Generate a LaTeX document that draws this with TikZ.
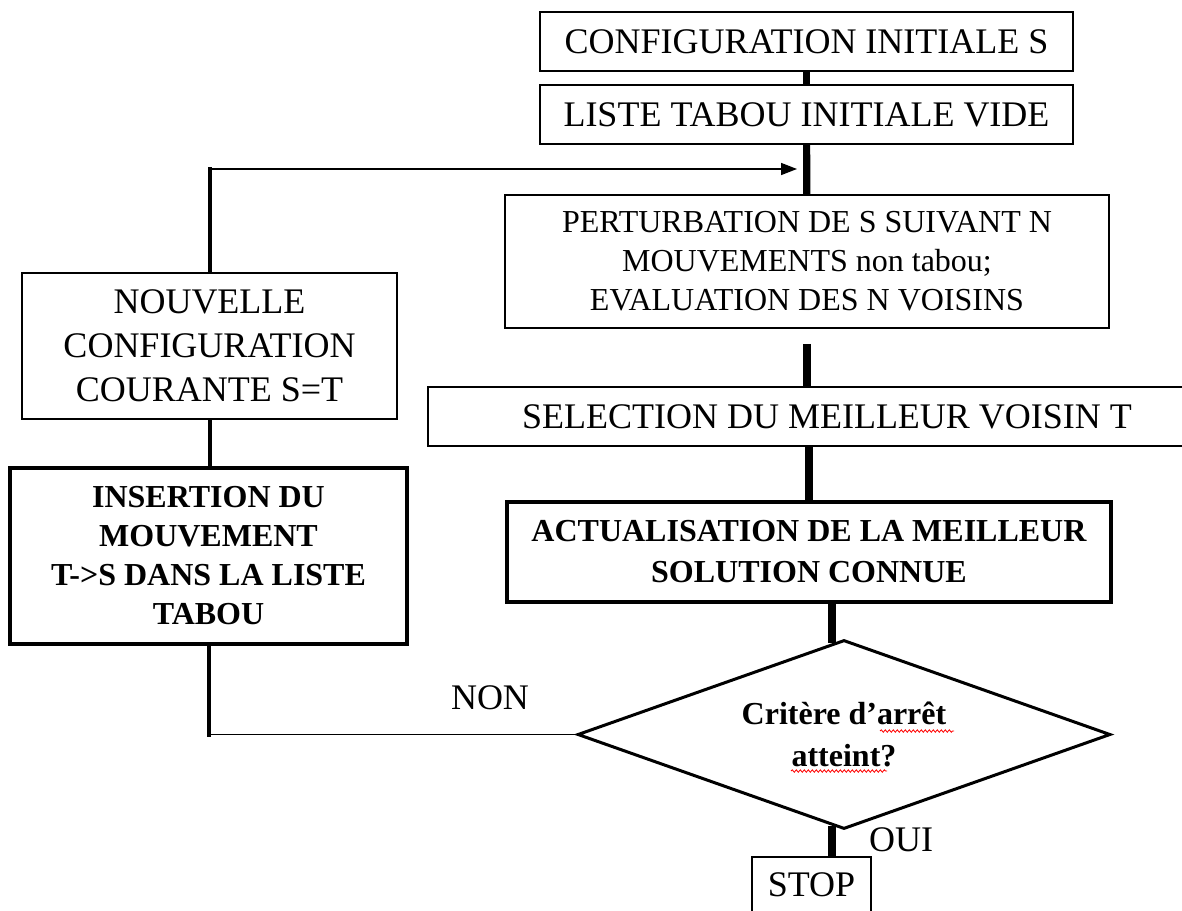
\documentclass[tikz,border=0pt]{standalone}
\usepackage{fontspec}
\setmainfont{Liberation Serif}
\usetikzlibrary{shapes.geometric,arrows.meta,decorations.pathmorphing}
\tikzset{
  blk/.style={rectangle,draw,line width=0.8pt,inner sep=0pt,align=center,font=\fontsize{18}{22}\selectfont},
  bblk/.style={blk,line width=1.8pt,font=\fontsize{16}{20.5}\selectfont\bfseries},
  dmd/.style={diamond,draw,line width=1.5pt,inner sep=0pt,aspect=2.82,align=center,minimum width=266.5pt,minimum height=94.5pt,font=\fontsize{16}{21}\selectfont\bfseries},
  lbl/.style={inner sep=0pt,font=\fontsize{18}{22}\selectfont},
  lnk/.style={line width=3.6pt},
  lnkm/.style={line width=2pt,line cap=rect},
  lnkt/.style={line width=0.8pt},
  sq/.style={red,line width=0.4pt,decorate,decoration={snake,amplitude=0.6pt,segment length=2pt}}
}

\begin{document}
\begin{tikzpicture}[x=0.5pt,y=-0.5pt]
\useasboundingbox (0,0) rectangle (1182,910);
\node[blk,minimum width=266.5pt,minimum height=29.5pt] (init) at (806.5,41.5) {CONFIGURATION INITIALE S};
\node[blk,minimum width=266.5pt,minimum height=29.5pt] (tabou) at (806.5,114.5) {LISTE TABOU INITIALE VIDE};
\node[blk,minimum width=302pt,minimum height=66.5pt,font=\fontsize{16}{19.5}\selectfont] (pert) at (807,261.5) {PERTURBATION DE S SUIVANT N\\MOUVEMENTS non tabou;\\EVALUATION DES N VOISINS};
\node[blk,minimum width=399pt,minimum height=29.5pt] (sel) at (827,416.5) {SELECTION DU MEILLEUR VOISIN T};
\node[bblk,minimum width=302pt,minimum height=50pt] (actu) at (809,552) {ACTUALISATION DE LA MEILLEUR\\SOLUTION CONNUE};
\node[dmd] (dec) at (844,734.5) {Critère d’arrêt\\atteint?};
\node[blk,minimum width=59.5pt,minimum height=28pt] (stop) at (811.5,885) {STOP};
\node[blk,minimum width=187.5pt,minimum height=73pt] (nouv) at (209.5,346) {NOUVELLE\\CONFIGURATION\\COURANTE S=T};
\node[bblk,minimum width=198.5pt,minimum height=88pt,font=\fontsize{16}{19.5}\selectfont\bfseries] (ins) at (208.5,556) {INSERTION DU\\MOUVEMENT\\T->S DANS LA LISTE\\TABOU};
\node[lbl] (non) at (490,698) {NON};
\node[lbl] (oui) at (901,840) {OUI};
\draw[lnk] (init) -- (tabou);
\draw[lnk] (tabou) -- (pert);
\draw[lnk,shorten <=7.5pt] (pert.south) -- (pert.south |- sel.north);
\draw[lnk] (actu.north |- sel.south) -- (actu.north);
\draw[lnk] ([xshift=11.5pt]actu.south) -- ([xshift=-6pt,yshift=-2pt]dec.north);
\draw[lnk] ([xshift=-6pt,yshift=2.5pt]dec.south) -- ([xshift=-6pt]dec.south |- stop.north);
\coordinate (fb) at (797,169);
\draw[lnkm] (nouv.north) -- (nouv.north |- fb);
\draw[lnkt,-{Triangle[length=8pt,width=6pt]}] (nouv.north |- fb) -- (fb);
\draw[lnkm] (nouv.south) -- (nouv.south |- ins.north);
\coordinate (nb) at (ins.south |- dec.west);
\draw[lnkt] (dec.west) -- (nb);
\draw[lnkm] (nb) -- (ins.south);
\draw[sq] (880,731) -- (954,731);
\draw[sq] (791,771) -- (887,771);
\end{tikzpicture}
\end{document}
